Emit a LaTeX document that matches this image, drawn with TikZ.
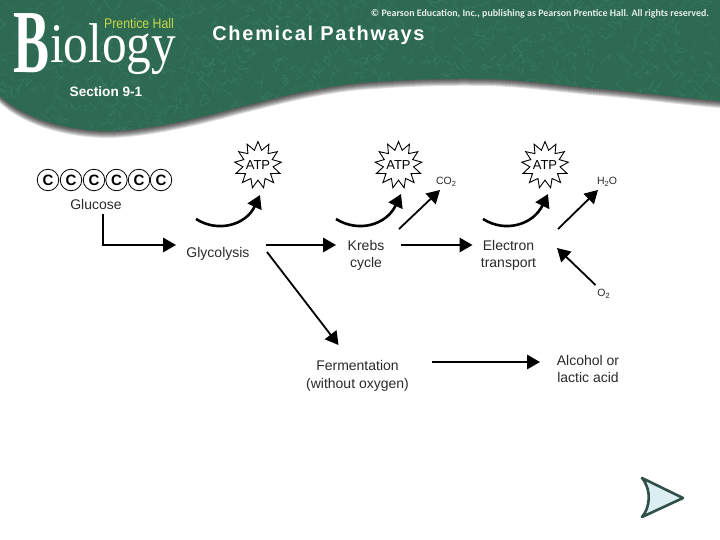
\documentclass[tikz,border=0pt]{standalone}
\usepackage{fontspec}
\setmainfont{Liberation Sans}
\newfontfamily\serifbig{Liberation Serif}
\newfontfamily\cprt{Carlito}
\newfontfamily\titlef[LetterSpace=8.5]{Liberation Sans}
\usetikzlibrary{arrows.meta,shapes.geometric,calc}
\definecolor{bandgreen}{HTML}{2E6A52}
\definecolor{bandtex}{HTML}{40806A}
\definecolor{labelgray}{HTML}{2A2A2A}
\definecolor{navfill}{HTML}{DDEEF2}
\definecolor{navline}{HTML}{2F5048}
\definecolor{logoyellow}{HTML}{C8D84A}
\newcommand{\fs}[1]{\fontsize{#1}{#1}\selectfont\baselineskip=1.25\baselineskip\relax}
\newcommand{\sbs}[1]{\raisebox{-2.5pt}{\fontsize{7.5}{7.5}\selectfont #1}}
\newcommand{\atptext}{\makebox[0pt]{\raisebox{-4.6pt}[0pt][0pt]{ATP}}}
\def\bandpath{(0,0) -- (720,0) -- (720,101) .. controls (680,98) and (640,92) .. (590,88) .. controls (550,84) and (520,80) .. (490,79) .. controls (440,78) and (400,80) .. (360,83) .. controls (310,88) and (270,100) .. (240,107) .. controls (200,118) and (150,130) .. (110,131) .. controls (60,131) and (20,115) .. (0,96) -- cycle}
\tikzset{
  lab/.style={font=\fs{14}, text=labelgray, align=center, inner sep=0pt, minimum width=10pt, minimum height=10pt},
  carbon/.style={circle, draw=black, line width=0.8pt, minimum size=21.5pt, inner sep=0pt, font=\fs{15}\bfseries},
  atpstar/.style={star, star points=13, star point ratio=1.55, draw=black, line width=0.9pt, fill=white, minimum size=47pt, inner sep=0pt, font=\fs{13}, text=black},
  flow/.style={draw=black, line width=1.8pt, -{Triangle[length=13pt,width=14.5pt]}},
  gain/.style={draw=black, line width=2.6pt, -{Triangle[length=13pt,width=15pt]}},
  chem/.style={font=\fs{10.5}, text=labelgray, inner sep=0pt, minimum width=10pt, minimum height=10pt},
  head/.style={text=white, inner sep=0pt},
}
\begin{document}
\begin{tikzpicture}[x=1pt,y=-1pt]
\useasboundingbox (0,0) rectangle (720,540);
\fill[white] (0,0) rectangle (720,540);
% header band shadow
\foreach \i in {1,...,7}{
  \fill[black,opacity=0.13,shift={(0,\i)}] \bandpath;
}
\fill[bandgreen] \bandpath;
\begin{scope}
  \clip \bandpath;
  \pgfmathsetseed{7}
  \foreach \k in {1,...,1100}{
    \pgfmathsetmacro{\px}{rnd*720}
    \pgfmathsetmacro{\py}{rnd*135}
    \pgfmathsetmacro{\ax}{\px+rnd*16-8}
    \pgfmathsetmacro{\ay}{\py+rnd*16-8}
    \pgfmathsetmacro{\bx}{\ax+rnd*16-8}
    \pgfmathsetmacro{\by}{\ay+rnd*16-8}
    \draw[bandtex,line width=0.6pt,opacity=0.55] (\px,\py) -- (\ax,\ay) -- (\bx,\by);
  }
\end{scope}
% header texts
\node[head,font=\serifbig\bfseries\fs{90},xscale=0.6,anchor=base] (logoB) at (31.5,73) {B};
\node[head,font=\serifbig\fs{56},xscale=0.88,anchor=base] (logoI) at (113,63) {iology};
\node[head,font=\fs{14},text=logoyellow,xscale=0.88] (logoP) at (139,23) {Prentice Hall};
\node[head,font=\titlef\bfseries\fs{20}] (title) at (318.5,35.5) {Chemical Pathways};
\node[head,font=\fs{13.6}\bfseries] (sect) at (106,92) {Section 9-1};
\node[head,text=white!88!bandgreen,font=\cprt\bfseries\fs{9.95}] (copy) at (540,13.5) {© Pearson Education, Inc., publishing as Pearson Prentice Hall. All rights reserved.};
% carbons
\node[carbon] (c1) at (48,180) {C};
\node[carbon] (c2) at (71,180) {C};
\node[carbon] (c3) at (94,180) {C};
\node[carbon] (c4) at (116.5,180) {C};
\node[carbon] (c5) at (139,180) {C};
\node[carbon] (c6) at (161,180) {C};
% ATP
\node[atpstar] (atp1) at (258,165) {\atptext};
\node[atpstar] (atp2) at (398.5,165) {\atptext};
\node[atpstar] (atp3) at (545,165) {\atptext};
% labels
\node[lab] (gluc) at (96,204) {Glucose};
\node[lab] (gly) at (218,253.5) {Glycolysis};
\node[lab] (krebs) at (366,255.5) {Krebs\\cycle};
\node[lab] (etc) at (508.5,255.5) {Electron\\transport};
\node[lab] (ferm) at (357.5,376) {Fermentation\\(without oxygen)};
\node[lab] (alc) at (588,369) {Alcohol or\\lactic acid};
\node[chem] (co2) at (446,182) {CO\sbs{2}};
\node[chem] (h2o) at (607,182) {H\sbs{2}O};
\node[chem] (o2) at (603.5,294) {O\sbs{2}};
% connectors
\draw[flow] ([shift={(7,10)}]gluc.center) |- ([shift={(-42,-8.5)}]gly.center);
\draw[flow] ([shift={(48,-8.5)}]gly.center) -- ([shift={(-30,-10.5)}]krebs.center);
\draw[flow] ([shift={(49,-1.5)}]gly.center) -- ([shift={(-19,-31)}]ferm.center);
\draw[flow] ([shift={(35,-10.5)}]krebs.center) -- ([shift={(-36,-10.5)}]etc.center);
\draw[flow] ([shift={(74,-14)}]ferm.center) -- ([shift={(-48,-7)}]alc.center);
\draw[flow] ([shift={(33,-26.5)}]krebs.center) -- ([shift={(-6,8)}]co2.center);
\draw[flow] ([shift={(49.5,-26.5)}]etc.center) -- ([shift={(-9,8)}]h2o.center);
\draw[flow] ([shift={(-8,-9)}]o2.center) -- ([shift={(48.5,-7.5)}]etc.center);
% ATP gain arrows
\draw[gain] ([shift={(-62,54)}]atp1.center) .. controls ([shift={(-40,68)}]atp1.center) and ([shift={(-12,60)}]atp1.center) .. ([shift={(2,30)}]atp1.center);
\draw[gain] ([shift={(-62.5,54)}]atp2.center) .. controls ([shift={(-40,68)}]atp2.center) and ([shift={(-12,60)}]atp2.center) .. ([shift={(2.5,29)}]atp2.center);
\draw[gain] ([shift={(-62,54)}]atp3.center) .. controls ([shift={(-40,68)}]atp3.center) and ([shift={(-12,60)}]atp3.center) .. ([shift={(3,29)}]atp3.center);
% nav button
\draw[draw=navline, fill=navfill, line width=2.6pt, line join=round] (642,478) -- (683,498) -- (642,517) .. controls (650,508) and (652,490) .. cycle;
\end{tikzpicture}
\end{document}
